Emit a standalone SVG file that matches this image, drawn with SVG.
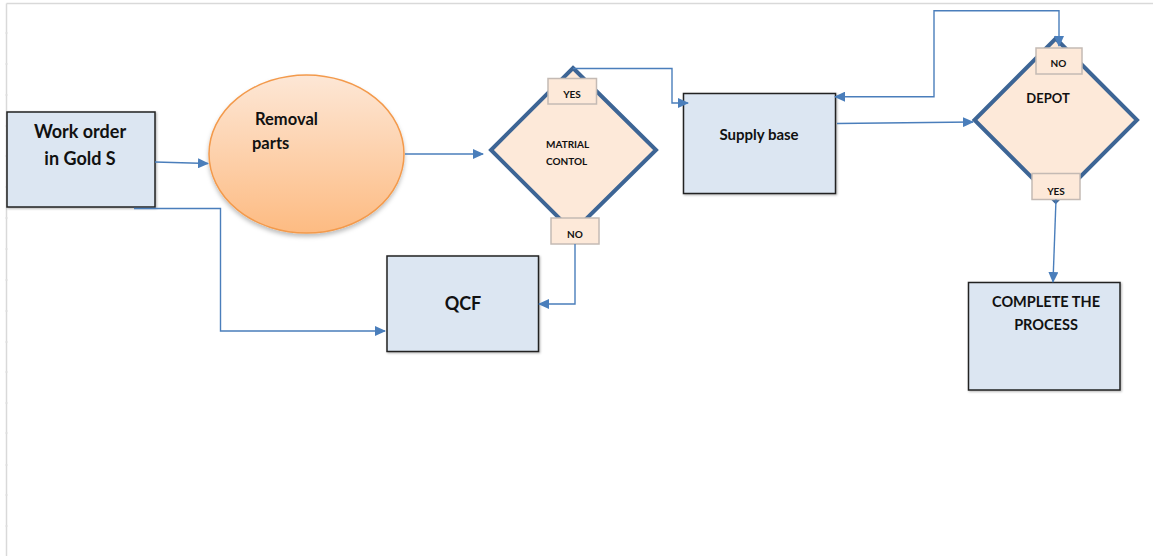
<svg xmlns="http://www.w3.org/2000/svg" width="1153" height="556" viewBox="0 0 1153 556">
<style>
.box{fill:#dce6f2;stroke:#222;stroke-width:1.5}
.dia{fill:#fde9d9;stroke:#3d6595;stroke-width:4;stroke-linejoin:miter}
.lbl{fill:#fde9d9;stroke:#c4bab4;stroke-width:1.5}
.t{font-family:Lato,"Liberation Sans",sans-serif;font-weight:bold;fill:#111}
.c{text-anchor:middle}
.con{fill:none;stroke:#4a7ebb;stroke-width:1.4}
.frame{stroke:#d9d9d9;stroke-width:1.5;fill:none}
</style>
<defs>
<linearGradient id="og" x1="0" y1="0" x2="0" y2="1">
<stop offset="0" stop-color="#fde7d6"/>
<stop offset="1" stop-color="#fdbb82"/>
</linearGradient>
<filter id="sh" x="-20%" y="-20%" width="140%" height="140%">
<feDropShadow dx="0" dy="3" stdDeviation="2" flood-color="#000" flood-opacity="0.25"/>
</filter>
<filter id="bs" x="-10%" y="-10%" width="120%" height="120%">
<feDropShadow dx="1" dy="1" stdDeviation="0.8" flood-color="#000" flood-opacity="0.3"/>
</filter>
<marker id="ar" markerUnits="userSpaceOnUse" markerWidth="11" markerHeight="10" refX="10" refY="5" orient="auto-start-reverse">
<path d="M0,0 L11,5 L0,10 z" fill="#4a7ebb"/>
</marker>
</defs>
<rect width="1153" height="556" fill="#fff"/>
<g id="frame">
<line class="frame" x1="6.5" y1="3.5" x2="1153" y2="3.5"/>
<line class="frame" x1="6.5" y1="3.5" x2="6.5" y2="556"/>
<path stroke="#e2e2e2" stroke-width="1" d="M5,33H8M5,64H8M5,95H8M5,126H8M5,156H8M5,187H8M5,218H8M5,249H8M5,280H8M5,311H8M5,342H8M5,372H8M5,403H8M5,433H8M5,465H8M5,495H8M5,526H8"/>
</g>
<g id="work-order">
<rect class="box" x="7" y="112" width="148" height="95" filter="url(#bs)"/>
<text class="t c" x="80" y="138" font-size="18">Work order</text>
<text class="t c" x="80" y="165" font-size="18">in Gold S</text>
</g>
<g id="removal-parts">
<ellipse cx="306.5" cy="154" rx="97.5" ry="79" fill="url(#og)" stroke="#f39a4c" stroke-width="1.5" filter="url(#sh)"/>
<text class="t" x="255" y="125" font-size="16.5">Removal</text>
<text class="t" x="252" y="149" font-size="16.5">parts</text>
</g>
<g id="material-control">
<polygon class="dia" points="573,68 656,150 573,232 491,150"/>
<text class="t" x="546" y="148" font-size="10">MATRIAL</text>
<text class="t" x="546" y="165" font-size="10">CONTOL</text>
<rect class="lbl" x="548" y="78.5" width="48.5" height="25.5"/>
<text class="t c" x="572" y="98" font-size="10">YES</text>
<rect class="lbl" x="551" y="218" width="48" height="26"/>
<text class="t c" x="575" y="238" font-size="10">NO</text>
</g>
<g id="qcf">
<rect class="box" x="387" y="256" width="151.5" height="95.5" filter="url(#bs)"/>
<text class="t c" x="463" y="310" font-size="18">QCF</text>
</g>
<g id="supply-base">
<rect class="box" x="683.5" y="93.5" width="152" height="100" filter="url(#bs)"/>
<text class="t c" x="759" y="140" font-size="15">Supply base</text>
</g>
<g id="depot">
<polygon class="dia" points="1055.7,38.5 1137,120 1055.7,201.5 974.5,120"/>
<text class="t c" x="1048" y="103" font-size="13">DEPOT</text>
<rect class="lbl" x="1036" y="48" width="46" height="26"/>
<text class="t c" x="1058.5" y="66.5" font-size="10">NO</text>
<rect class="lbl" x="1032" y="173.5" width="48" height="26"/>
<text class="t c" x="1056" y="195" font-size="10">YES</text>
</g>
<g id="complete">
<rect class="box" x="968.5" y="282.5" width="151.5" height="107.5" filter="url(#bs)"/>
<text class="t c" x="1046" y="307" font-size="14.5">COMPLETE THE</text>
<text class="t c" x="1046" y="330" font-size="14.5">PROCESS</text>
</g>
<g id="connectors">
<path class="con" d="M155,162 L208,163.5" marker-end="url(#ar)"/>
<path class="con" d="M134,208.5 H220.5 V331 H385" marker-end="url(#ar)"/>
<path class="con" d="M405,154 H483" marker-end="url(#ar)"/>
<path class="con" d="M573,68.5 H672 V103 H688" marker-end="url(#ar)"/>
<path class="con" d="M575,244 V304 H539" marker-end="url(#ar)"/>
<path class="con" d="M837,123.5 L973,122" marker-end="url(#ar)"/>
<path class="con" d="M1059,46 V10.7 H934 V96.7 H835" marker-start="url(#ar)" marker-end="url(#ar)"/>
<path class="con" d="M1056,199.5 L1053,282" marker-end="url(#ar)"/>
</g>
</svg>
